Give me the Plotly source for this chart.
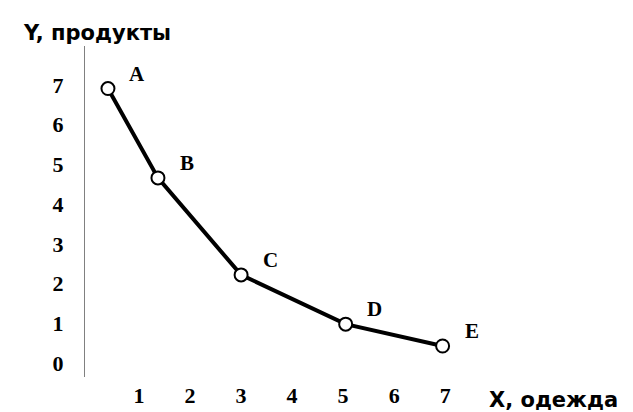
import plotly.graph_objects as go

# точки кривой (X - одежда, Y - продукты)
labels = ["A", "B", "C", "D", "E"]
x_vals = [0.39, 1.37, 3.0, 5.05, 6.95]
y_vals = [6.91, 4.66, 2.22, 0.98, 0.43]

x_ticks = [1, 2, 3, 4, 5, 6, 7]
y_ticks = [0, 1, 2, 3, 4, 5, 6, 7]

tick_font = {"family": "Liberation Serif", "size": 22, "color": "black"}
letter_font = {"family": "Liberation Serif", "size": 21, "color": "black"}
title_font = {"family": "DejaVu Sans", "size": 21, "color": "black"}

fig = go.Figure()

fig.add_trace(
    go.Scatter(
        x=x_vals,
        y=y_vals,
        mode="lines+markers",
        line={"color": "black", "width": 4},
        marker={"symbol": "circle", "size": 13, "color": "white",
                "line": {"color": "black", "width": 2}},
        hoverinfo="skip",
    )
)

# буквы возле точек
for lab, xv, yv in zip(labels, x_vals, y_vals):
    fig.add_annotation(
        x=xv, y=yv, text=f"<b>{lab}</b>", showarrow=False,
        xshift=29, yshift=15, font=letter_font,
    )

# подписи осей
fig.add_annotation(
    text="<b>Y, продукты</b>", showarrow=False, font=title_font,
    xref="paper", yref="paper", x=-0.159, y=1.04,
    xanchor="left", yanchor="middle",
)
fig.add_annotation(
    text="<b>X, одежда</b>", showarrow=False, font=title_font,
    xref="paper", yref="paper", x=0.998, y=-0.068,
    xanchor="left", yanchor="middle",
)

fig.update_xaxes(
    range=[-0.06, 7.84], tickvals=x_ticks, ticktext=[f"<b>{t}</b>" for t in x_ticks],
    tickfont=tick_font, showgrid=False, zeroline=False, showline=False,
    ticks="", ticklabelstandoff=3, automargin=False,
)
fig.update_yaxes(
    range=[-0.35, 7.98], tickvals=y_ticks, ticktext=[f"<b>{t}</b>" for t in y_ticks],
    tickfont=tick_font, showgrid=False, zeroline=False, showline=True,
    linecolor="#808080", linewidth=1, ticks="", ticklabelstandoff=16,
    automargin=False,
)

fig.update_layout(
    width=633, height=412, autosize=False,
    margin={"l": 77, "r": 153, "t": 38, "b": 43},
    plot_bgcolor="white", paper_bgcolor="white",
    showlegend=False,
)

fig.write_html("out.html")
